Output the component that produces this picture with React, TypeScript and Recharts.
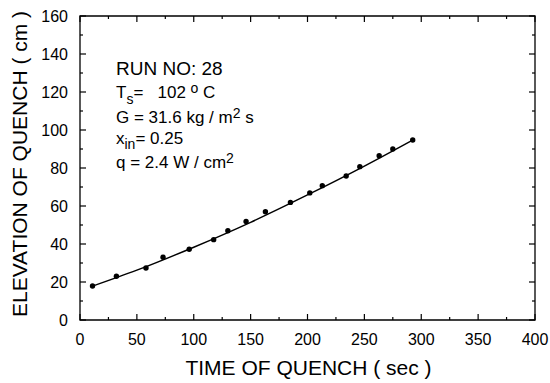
import {
  ComposedChart,
  Line,
  Scatter,
  XAxis,
  YAxis,
  ReferenceArea,
} from "recharts";

// measured quench front positions
const TIME = [11, 32, 58, 73, 96, 117.5, 130, 146, 163, 185, 202, 213, 234, 246, 263, 275, 292.5];
const ELEVATION = [17.9, 23.0, 27.4, 33.0, 37.2, 42.3, 47.0, 51.9, 57.0, 61.9, 66.9, 70.7, 75.8, 80.7, 86.5, 90.0, 94.7];

// fitted curve through the measurements
const FIT_TIME = [11, 50, 100, 150, 200, 250, 292.5];
const FIT_ELEVATION = [17.8, 26.2, 38.3, 51.4, 65.8, 81.0, 94.7];

const X_TICKS = [0, 25, 50, 75, 100, 125, 150, 175, 200, 225, 250, 275, 300, 325, 350, 375, 400];
const Y_TICKS = [0, 10, 20, 30, 40, 50, 60, 70, 80, 90, 100, 110, 120, 130, 140, 150, 160];

const FONT = '"Liberation Sans", Arial, Helvetica, sans-serif';
const PLOT_W = 455;
const PLOT_H = 304;

const points = TIME.map((x, i) => ({ x, y: ELEVATION[i] }));
const fit = FIT_TIME.map((x, i) => ({ x, y: FIT_ELEVATION[i] }));

// inward ticks on bottom + top edge, labels only on majors
function XTick({ x, y, payload }: any) {
  const v = payload.value;
  const major = v % 50 === 0;
  const len = major ? 6 : 3;
  return (
    <g>
      <line x1={x} y1={y} x2={x} y2={y - len} stroke="#000" strokeWidth={1.2} />
      <line x1={x} y1={y - PLOT_H} x2={x} y2={y - PLOT_H + len} stroke="#000" strokeWidth={1.2} />
      {major && (
        <text x={x} y={y + 25} textAnchor="middle" fontSize={16} fontFamily={FONT} fill="#000">
          {v}
        </text>
      )}
    </g>
  );
}

// inward ticks on left + right edge
function YTick({ x, y, payload }: any) {
  const v = payload.value;
  const major = v % 20 === 0;
  const len = major ? 6 : 3;
  return (
    <g>
      <line x1={x} y1={y} x2={x + len} y2={y} stroke="#000" strokeWidth={1.2} />
      <line x1={x + PLOT_W} y1={y} x2={x + PLOT_W - len} y2={y} stroke="#000" strokeWidth={1.2} />
      {major && (
        <text x={x - 12} y={y + 6} textAnchor="end" fontSize={16} fontFamily={FONT} fill="#000">
          {v}
        </text>
      )}
    </g>
  );
}

function XTitle({ viewBox }: any) {
  return (
    <text x={viewBox.x + viewBox.width / 2 + 1} y={viewBox.y + 55} textAnchor="middle" fontSize={21} fontFamily={FONT} fill="#000">
      TIME OF QUENCH ( sec )
    </text>
  );
}

function YTitle({ viewBox }: any) {
  const cx = 27;
  const cy = viewBox.y + 148;
  return (
    <text x={cx} y={cy} transform={`rotate(-90, ${cx}, ${cy})`} textAnchor="middle" fontSize={21} fontFamily={FONT} fill="#000">
      ELEVATION OF QUENCH ( cm )
    </text>
  );
}

function Notes({ viewBox }: any) {
  const x = viewBox.x + 36;
  const top = viewBox.y;
  const common = { x, fontFamily: FONT, fill: "#000", style: { whiteSpace: "pre" as const } };
  return (
    <g>
      <text {...common} y={top + 59} fontSize={19}>RUN NO: 28</text>
      <text {...common} y={top + 82} fontSize={17}>
        T<tspan fontSize={14} dy={6}>s</tspan>
        <tspan dy={-6}>=   102 </tspan>
        <tspan fontSize={14} dy={-5}>o</tspan>
        <tspan dy={5}> C</tspan>
      </text>
      <text {...common} y={top + 107} fontSize={17}>
        G = 31.6 kg / m<tspan fontSize={14} dy={-5}>2</tspan>
        <tspan dy={5}> s</tspan>
      </text>
      <text {...common} y={top + 128} fontSize={17}>
        x<tspan fontSize={14} dy={5}>in</tspan>
        <tspan dy={-5}>= 0.25</tspan>
      </text>
      <text {...common} y={top + 152} fontSize={17}>
        q = 2.4 W / cm<tspan fontSize={14} dy={-5}>2</tspan>
      </text>
    </g>
  );
}

export default function App() {
  return (
    <div style={{ position: "absolute", left: 0, top: 0, background: "#fff" }}>
      <ComposedChart width={550} height={383} margin={{ top: 16, right: 15, bottom: 0, left: 0 }}>
        <XAxis
          type="number"
          dataKey="x"
          domain={[0, 400]}
          ticks={X_TICKS}
          interval={0}
          height={63}
          axisLine={false}
          tickLine={false}
          tickSize={0}
          tickMargin={0}
          tick={XTick}
          label={XTitle}
        />
        <YAxis
          type="number"
          dataKey="y"
          domain={[0, 160]}
          ticks={Y_TICKS}
          interval={0}
          width={80}
          axisLine={false}
          tickLine={false}
          tickSize={0}
          tickMargin={0}
          tick={YTick}
          label={YTitle}
        />
        <ReferenceArea
          x1={0}
          x2={400}
          y1={0}
          y2={160}
          fill="none"
          fillOpacity={0}
          stroke="#000"
          strokeWidth={1.3}
          label={Notes}
        />
        <Line
          data={fit}
          dataKey="y"
          type="monotone"
          stroke="#000"
          strokeWidth={1.4}
          dot={false}
          isAnimationActive={false}
        />
        <Scatter
          data={points}
          dataKey="y"
          fill="#000"
          shape={(p: any) => <circle cx={p.cx} cy={p.cy} r={2.7} fill="#000" />}
          isAnimationActive={false}
        />
      </ComposedChart>
    </div>
  );
}
